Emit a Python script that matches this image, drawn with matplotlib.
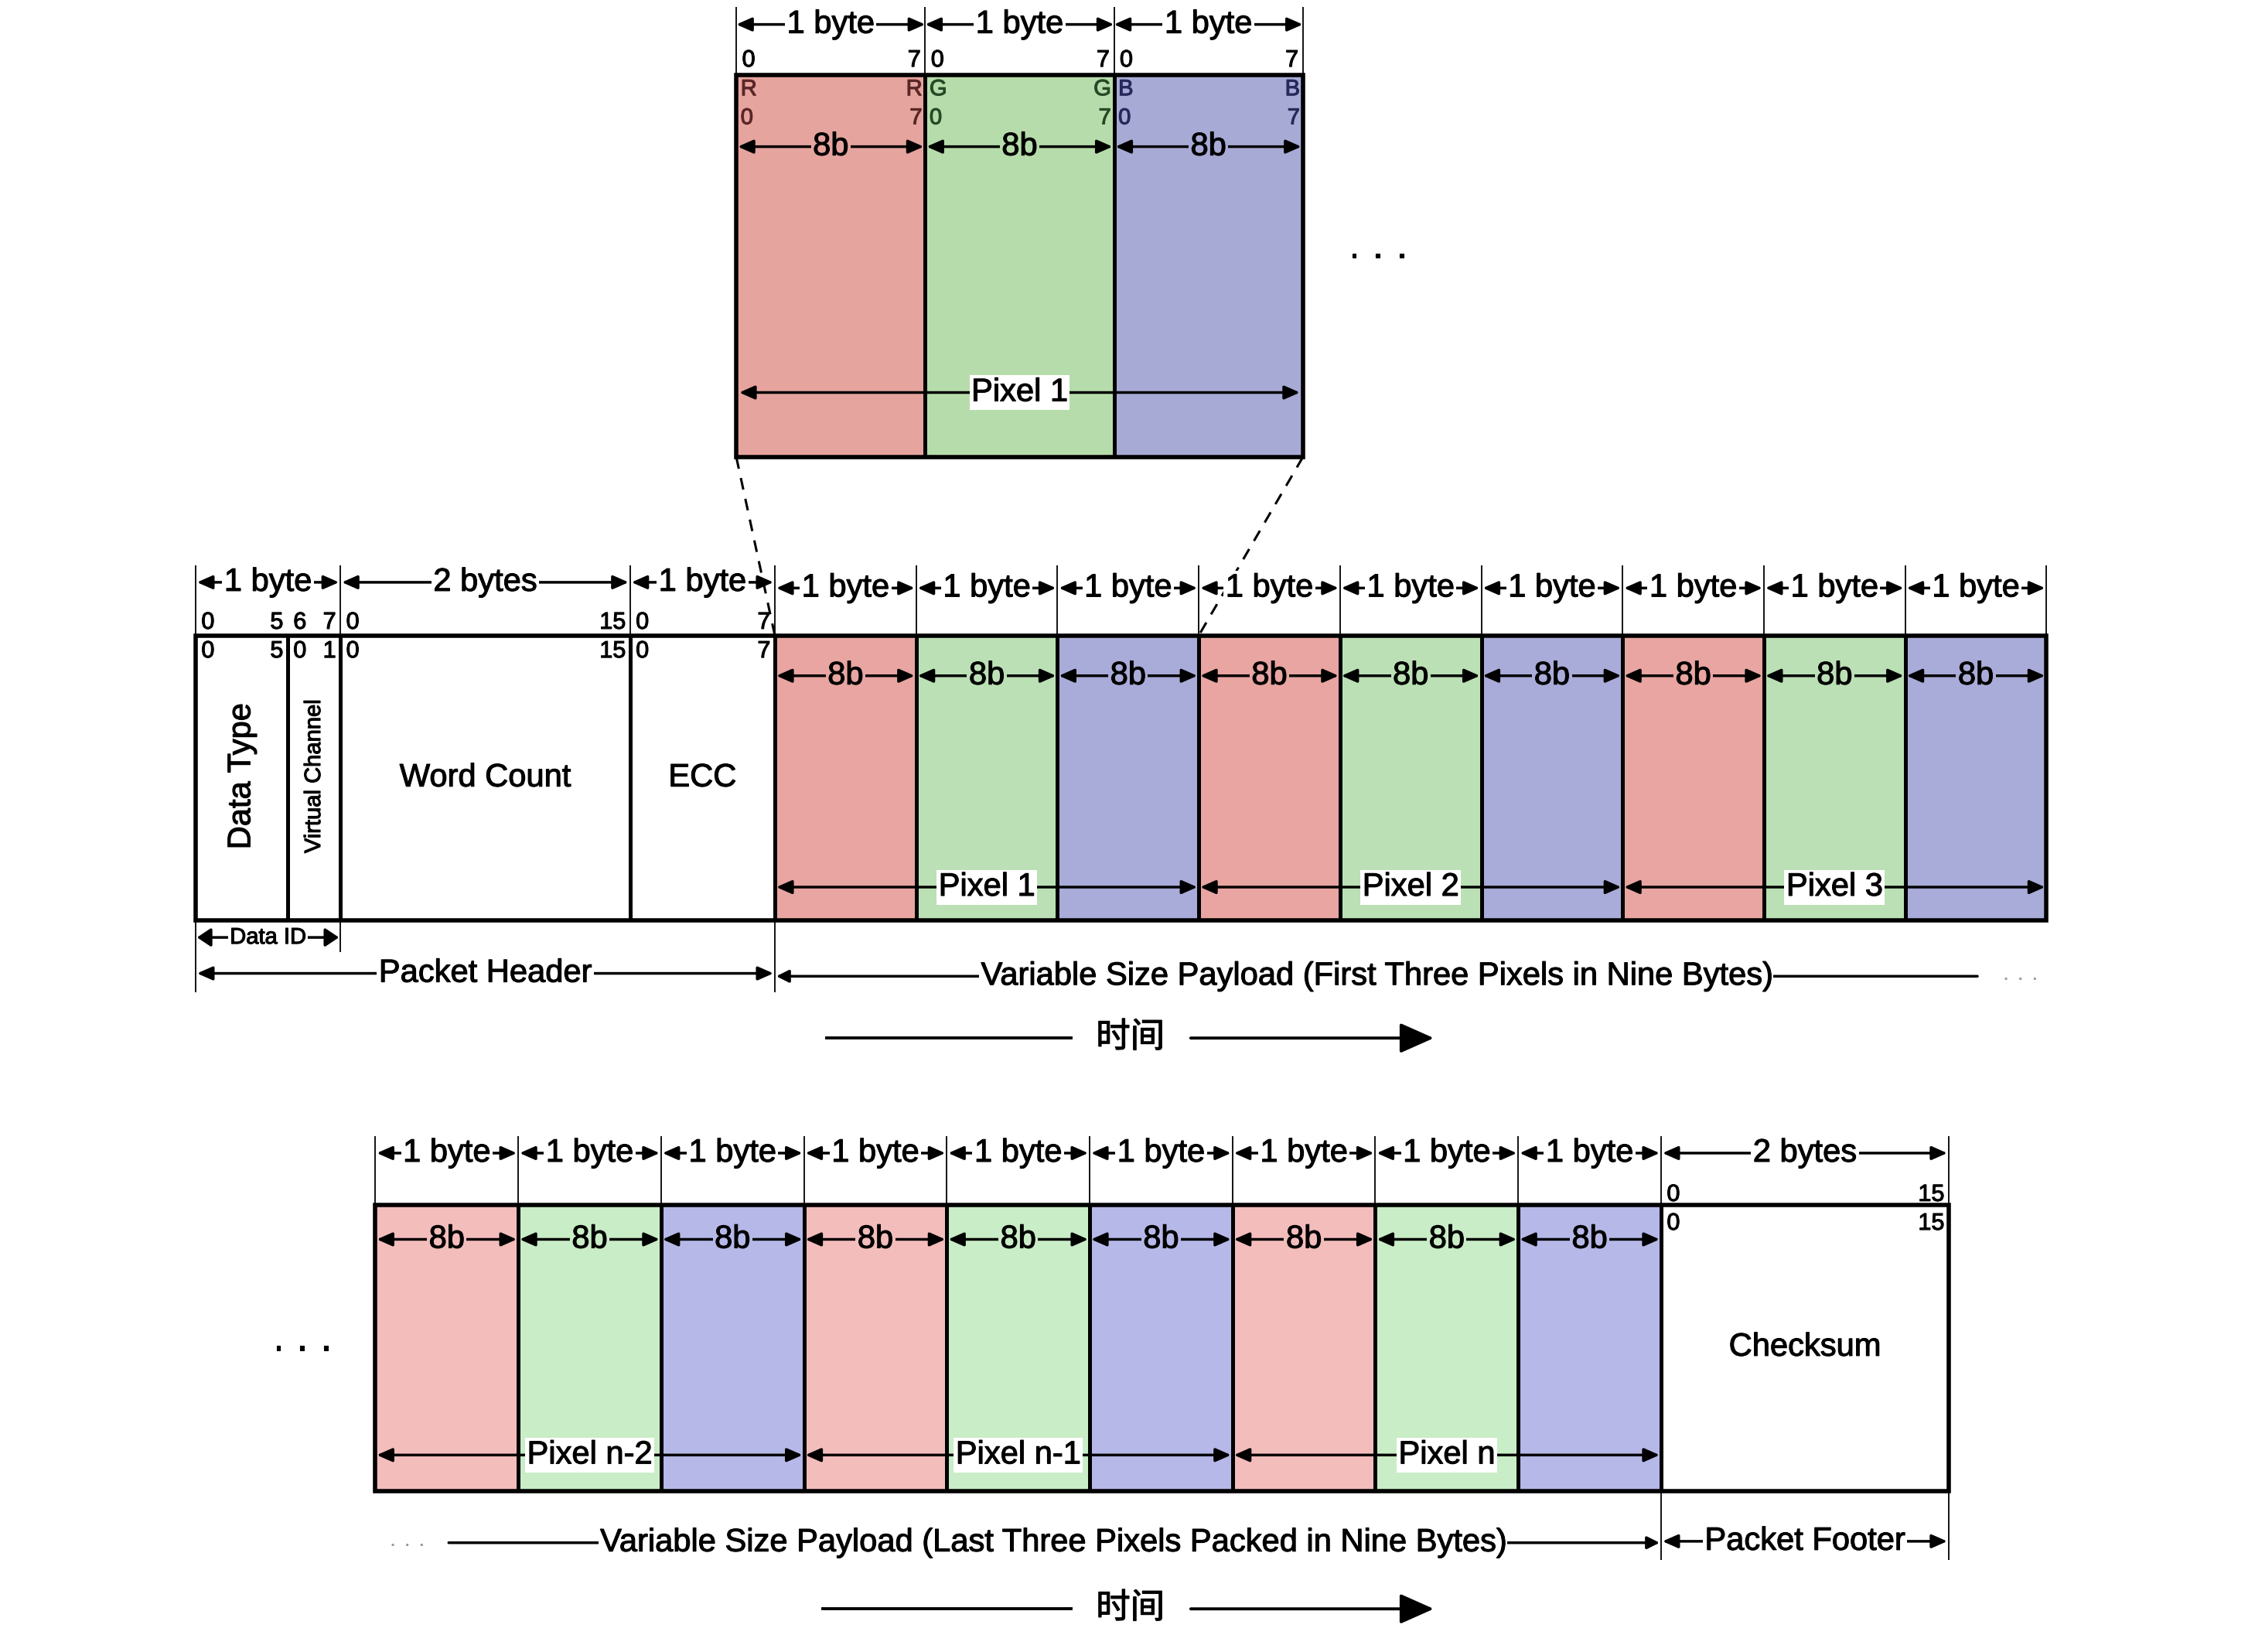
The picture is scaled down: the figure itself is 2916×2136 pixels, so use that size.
import matplotlib
matplotlib.use('agg')
import matplotlib.pyplot as plt
import matplotlib.patheffects as pe
from matplotlib.patches import Rectangle

plt.rcParams['font.family'] = ['Liberation Sans', 'Noto Sans CJK SC', 'DejaVu Sans']

# ---- diagram content ----
channels = ['R', 'G', 'B']
first_pixels = ['Pixel 1', 'Pixel 2', 'Pixel 3']
last_pixels = ['Pixel n-2', 'Pixel n-1', 'Pixel n']
header_fields = ['Data Type', 'Virtual Channel', 'Word Count', 'ECC']
header_bits_top = [('0', '5'), ('6', '7'), ('0', '15'), ('0', '7')]
header_bits_in = [('0', '5'), ('0', '1'), ('0', '15'), ('0', '7')]
header_sizes = ['1 byte', '2 bytes', '1 byte']
header_size_bytes = [1, 2, 1]
byte_label = '1 byte'
bit_label = '8b'
checksum_label = 'Checksum'
checksum_size = '2 bytes'
checksum_bits = ('0', '15')
channel_bits = ('0', '7')
payload_first = 'Variable Size Payload (First Three Pixels in Nine Bytes)'
payload_last = 'Variable Size Payload (Last Three Pixels Packed in Nine Bytes)'
time_label = '时间'

# ---- styles ----
top_cols = {'R': '#e6a49e', 'G': '#b7dcab', 'B': '#a8aad6'}
mid_cols = {'R': '#e8a5a1', 'G': '#bbe0b5', 'B': '#a9abd8'}
bot_cols = {'R': '#f3bdbc', 'G': '#c9edc6', 'B': '#b6b8e8'}
txt_cols = {'R': '#5a2626', 'G': '#264a26', 'B': '#262a5a'}
FS = 30
BITFS = 22
ARW = '<|-|>,head_length=0.5,head_width=0.22'
HEAVY = [pe.withStroke(linewidth=0.9, foreground='k')]

fig = plt.figure(figsize=(29.16, 21.36), dpi=100)
ax = fig.add_axes([0, 0, 1, 1])
ax.set_xlim(0, 1568)
ax.set_ylim(1149, 0)
ax.axis('off')


def T(x, y, s, fs=FS, ha='center', color='k', **kw):
    eff = [pe.withStroke(linewidth=0.8, foreground=color)]
    return ax.text(x, y, s, fontsize=fs, ha=ha, va='center', color=color,
                   path_effects=eff, **kw)


def dim(x0, x1, y, label=None, fs=FS, bg='white', style=ARW, tx=None, lw=2.5):
    ax.annotate('', xy=(x1, y), xytext=(x0, y),
                arrowprops=dict(arrowstyle=style, lw=lw, color='k',
                                shrinkA=0, shrinkB=0, mutation_scale=24), zorder=4)
    if label:
        T((x0 + x1) / 2 if tx is None else tx, y, label, fs=fs, zorder=6,
          bbox=dict(boxstyle='square,pad=0.06', fc=bg, ec='none'))


def ticks(xs, y0, y1, lw=1.3):
    ax.vlines(xs, y0, y1, colors='k', lw=lw, zorder=2)


def cells(x0, w, y0, y1, cols, n):
    for i in range(n):
        ch = channels[i % 3]
        ax.add_patch(Rectangle((x0 + i * w, y0), w, y1 - y0, fc=cols[ch], ec='none', zorder=1))


def box(x0, x1, y0, y1, inner):
    ax.add_patch(Rectangle((x0, y0), x1 - x0, y1 - y0, fill=False, ec='k', lw=4, zorder=5))
    ax.vlines(inner, y0, y1, colors='k', lw=3.6, zorder=5)


# ================= top zoomed pixel =================
tx0, tw, ty0, ty1 = 512, 131.3, 52, 318
tedges = [tx0 + i * tw for i in range(4)]
cells(tx0, tw, ty0, ty1, top_cols, 3)
box(tedges[0], tedges[-1], ty0, ty1, tedges[1:-1])
ticks(tedges, 5, ty0)
for i, ch in enumerate(channels):
    a, b = tedges[i], tedges[i + 1]
    dim(a, b, 17, byte_label)
    T(a + 4, 42, channel_bits[0], fs=BITFS, ha='left')
    T(b - 3, 42, channel_bits[1], fs=BITFS, ha='right')
    T(a + 3, 62, ch, fs=21, ha='left', color=txt_cols[ch])
    T(a + 3, 82, channel_bits[0], fs=21, ha='left', color=txt_cols[ch])
    T(b - 2, 62, ch, fs=21, ha='right', color=txt_cols[ch])
    T(b - 2, 82, channel_bits[1], fs=21, ha='right', color=txt_cols[ch])
    dim(a + 1, b - 1, 102, bit_label, bg=top_cols[ch])
dim(tedges[0] + 2, tedges[-1] - 2, 273, first_pixels[0], tx=(tedges[1] + tedges[2]) / 2)
T(958, 178, '· · ·', fs=36)

# ================= middle row: header + first pixels =================
my0, my1 = 442, 640
hx0, hw = 136, 100.7
hedges = [hx0]
for n in header_size_bytes:
    hedges.append(hedges[-1] + n * hw)
px0 = hedges[-1]
pw = (1423 - px0) / 9
pedges = [px0 + i * pw for i in range(10)]
split = hx0 + 0.635 * hw  # data type / virtual channel

cells(px0, pw, my0, my1, mid_cols, 9)
fields = [hedges[0], split, hedges[1], hedges[2], hedges[3]]
box(hx0, pedges[-1], my0, my1, fields[1:] + pedges[1:-1])
ticks(hedges + pedges[1:], 393, my0)

for i, s in enumerate(header_sizes):
    dim(hedges[i] + 1, hedges[i + 1] - 1, 405, s)
for i in range(9):
    dim(pedges[i] + 1, pedges[i + 1] - 1, 409, byte_label)
    dim(pedges[i] + 1, pedges[i + 1] - 1, 470, bit_label, bg=mid_cols[channels[i % 3]])

for i in range(4):
    a, b = fields[i], fields[i + 1]
    T(a + 4, 433, header_bits_top[i][0], fs=BITFS, ha='left')
    T(b - 3, 433, header_bits_top[i][1], fs=BITFS, ha='right')
    T(a + 4, 453, header_bits_in[i][0], fs=BITFS, ha='left')
    T(b - 3, 453, header_bits_in[i][1], fs=BITFS, ha='right')

T((fields[0] + fields[1]) / 2, 540, header_fields[0], rotation=90)
T((fields[1] + fields[2]) / 2, 540, header_fields[1], fs=21, rotation=90)
T((fields[2] + fields[3]) / 2, 541, header_fields[2])
T((fields[3] + fields[4]) / 2, 541, header_fields[3])

for k in range(3):
    a, b = pedges[3 * k], pedges[3 * k + 3]
    dim(a + 1, b - 1, 617, first_pixels[k], tx=(pedges[3 * k + 1] + pedges[3 * k + 2]) / 2)

# below middle row
ticks([hx0, px0], my1, 690)
ticks([hedges[1]], my1, 662)
dim(hx0 + 1, hedges[1] - 1, 652, 'Data ID', fs=21, style='<|-|>,head_length=0.45,head_width=0.3')
dim(hx0 + 1, px0 - 1, 677, 'Packet Header')
dim(px0 + 1, 1375, 679, payload_first, style='<|-', tx=957)
ax.text(1405, 681, '· · ·', fontsize=22, ha='center', va='center', color='#999999')

# time arrow
ax.plot([575, 745], [722, 722], color='k', lw=2.8)
T(786, 722, time_label, fs=32)
ax.annotate('', xy=(997, 722), xytext=(828, 722),
            arrowprops=dict(arrowstyle='-|>,head_length=0.9,head_width=0.4', lw=2.8,
                            color='k', shrinkA=0, shrinkB=0, mutation_scale=30))

# zoom guide lines
ax.plot([tedges[0], px0], [ty1, my0], color='k', lw=2.2, ls=(0, (5, 4)), zorder=3)
ax.plot([tedges[-1], pedges[3]], [ty1, my0], color='k', lw=2.2, ls=(0, (5, 4)), zorder=3)

# ================= bottom row: last pixels + footer =================
by0, by1 = 838, 1037
bx0 = 261
bw = (1155 - bx0) / 9
bedges = [bx0 + i * bw for i in range(10)]
cx1 = bedges[-1] + 2 * 100.0

cells(bx0, bw, by0, by1, bot_cols, 9)
box(bx0, cx1, by0, by1, bedges[1:])
ticks(bedges + [cx1], 790, by0)
for i in range(9):
    dim(bedges[i] + 1, bedges[i + 1] - 1, 802, byte_label)
    dim(bedges[i] + 1, bedges[i + 1] - 1, 862, bit_label, bg=bot_cols[channels[i % 3]])
dim(bedges[-1] + 1, cx1 - 1, 802, checksum_size)
T(bedges[-1] + 4, 831, checksum_bits[0], fs=BITFS, ha='left')
T(cx1 - 3, 831, checksum_bits[1], fs=BITFS, ha='right')
T(bedges[-1] + 4, 851, checksum_bits[0], fs=BITFS, ha='left')
T(cx1 - 3, 851, checksum_bits[1], fs=BITFS, ha='right')
T((bedges[-1] + cx1) / 2, 937, checksum_label)
for k in range(3):
    a, b = bedges[3 * k], bedges[3 * k + 3]
    dim(a + 1, b - 1, 1012, last_pixels[k], tx=(bedges[3 * k + 1] + bedges[3 * k + 2]) / 2)
T(210, 938, '· · ·', fs=36)

ticks([bedges[-1], cx1], by1, 1085)
dim(312, bedges[-1] - 1, 1073, payload_last, style='-|>', tx=732)
ax.text(283, 1075, '· · ·', fontsize=22, ha='center', va='center', color='#999999')
dim(bedges[-1] + 1, cx1 - 1, 1072, 'Packet Footer')

ax.plot([572, 745], [1119, 1119], color='k', lw=2.8)
T(786, 1119, time_label, fs=32)
ax.annotate('', xy=(997, 1119), xytext=(828, 1119),
            arrowprops=dict(arrowstyle='-|>,head_length=0.9,head_width=0.4', lw=2.8,
                            color='k', shrinkA=0, shrinkB=0, mutation_scale=30))

fig.savefig('out.png', dpi=100, facecolor='white')
